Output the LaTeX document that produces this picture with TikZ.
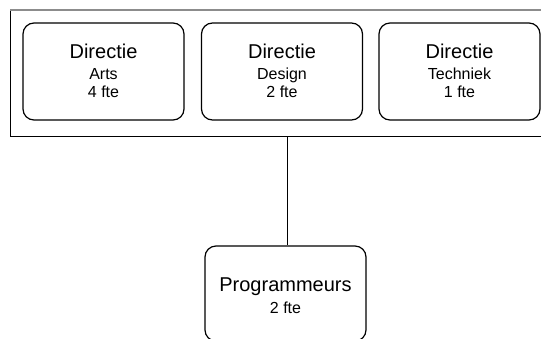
\documentclass[tikz,border=0pt]{standalone}
\usepackage{fontspec}
\setmainfont{Liberation Sans}
\begin{document}
\begin{tikzpicture}[x=1pt,y=-1pt,
  unit/.style={draw=black,line width=1.2pt,rounded corners=11pt,minimum width=161pt,minimum height=97pt,inner sep=0pt},
  big/.style={anchor=base,font=\fontsize{20}{22}\selectfont,inner sep=0pt},
  small/.style={anchor=base,font=\fontsize{16}{18}\selectfont,inner sep=0pt}]
\useasboundingbox (0,0) rectangle (541,338);
\clip (0,0) rectangle (541,338);
% outer frame
\draw[black,line width=0.9pt] (10,10) -- (10,136) -- (560,136);
\draw[gray!90,line width=2pt] (10,10) -- (560,10);
\coordinate (fb) at (287,136);
% boxes
\node[unit] (arts) at (103.5,71.5) {};
\node[unit] (design) at (282,71.5) {};
\node[unit] (tech) at (459.5,71.5) {};
\node[unit,minimum height=95pt] (prog) at (285.5,293.5) {};
% texts
\node[big] (t1a) at (103.5,58.3) {Directie};
\node[small] (t1b) at (103.5,79) {Arts};
\node[small] (t1c) at (103.5,97.3) {4 fte};
\node[big] (t2a) at (282,58.3) {Directie};
\node[small] (t2b) at (282,79) {Design};
\node[small] (t2c) at (282,97.3) {2 fte};
\node[big] (t3a) at (459.5,58.3) {Directie};
\node[small] (t3b) at (459.5,79) {Techniek};
\node[small] (t3c) at (459.5,97.3) {1 fte};
\node[big] (t4a) at (285.5,291.7) {Programmeurs};
\node[small] (t4b) at (285.5,313.3) {2 fte};
% connector
\draw[line width=1pt] (fb) -- (fb |- prog.north);
\end{tikzpicture}
\end{document}
